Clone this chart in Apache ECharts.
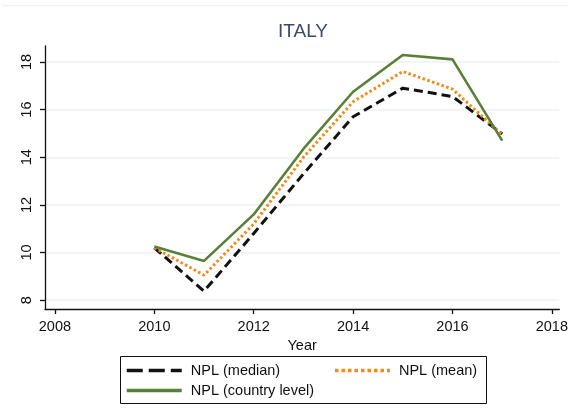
<!DOCTYPE html>
<html>
<head>
<meta charset="utf-8">
<script src="https://cdn.jsdelivr.net/npm/echarts@6/dist/echarts.min.js"></script>
<style>
  html, body { margin: 0; padding: 0; background: #fff; }
  #chart { width: 571px; height: 418px; }
</style>
</head>
<body>
<div id="chart"></div>
<script>
const years = [2010, 2011, 2012, 2013, 2014, 2015, 2016, 2017]
const nplMedian = [10.2, 8.38, 10.8, 13.3, 15.7, 16.9, 16.55, 14.98]
const nplMean = [10.2, 9.05, 11.2, 14.0, 16.33, 17.6, 16.86, 14.95]
const nplCountry = [10.25, 9.65, 11.6, 14.35, 16.75, 18.29, 18.11, 14.7]
const xTicks = [2008, 2010, 2012, 2014, 2016, 2018]
const yTicks = [8, 10, 12, 14, 16, 18]

const font = 'Liberation Sans, Arial, sans-serif'
const pairs = vals => years.map((y, i) => [y, vals[i]])

let chart = echarts.init(document.getElementById('chart'))

chart.setOption({
  animation: false,
  title: {
    text: 'ITALY',
    left: 273,
    top: 17,
    textStyle: { fontFamily: font, fontSize: 19, fontWeight: 'normal', color: '#3c4a66' }
  },
  grid: { left: 45, right: 11, top: 46, bottom: 109 },
  xAxis: {
    type: 'value',
    min: 2007.8,
    max: 2018.15,
    name: 'Year',
    nameLocation: 'middle',
    nameGap: 21,
    nameTextStyle: { fontFamily: font, fontSize: 14.5, color: '#111' },
    axisLine: { lineStyle: { color: '#111', width: 1.3 } },
    axisTick: { customValues: xTicks, length: 5, lineStyle: { color: '#111', width: 1.3 } },
    axisLabel: {
      customValues: xTicks,
      margin: 10,
      fontFamily: font, fontSize: 14.5, color: '#111',
      formatter: v => String(v)
    },
    splitLine: { show: false }
  },
  yAxis: {
    type: 'value',
    min: 7.63,
    max: 18.67,
    axisLine: { show: true, lineStyle: { color: '#111', width: 1.3 } },
    axisTick: { show: true, customValues: yTicks, length: 5, lineStyle: { color: '#111', width: 1.3 } },
    axisLabel: {
      customValues: yTicks,
      rotate: 90,
      margin: 11,
      fontFamily: font, fontSize: 14.5, color: '#111',
      formatter: v => String(v)
    },
    splitLine: { show: true, lineStyle: { color: '#edf2f2', width: 1.5 } }
  },
  legend: [
    {
      data: [
        { name: 'NPL (median)', lineStyle: { width: 3.5, type: [16, 6] } },
        { name: 'NPL (mean)', lineStyle: { width: 3.5, type: [3.5, 3] } }
      ],
      left: 125,
      top: 363,
      padding: 0,
      itemWidth: 55,
      itemHeight: 14,
      itemGap: 53,
      itemStyle: { opacity: 0 },
      textStyle: { fontFamily: font, fontSize: 14.5, color: '#111', padding: [0, 0, 0, 4] }
    },
    {
      data: [{ name: 'NPL (country level)', lineStyle: { width: 3.5 } }],
      left: 125,
      top: 383,
      padding: 0,
      itemWidth: 55,
      itemHeight: 14,
      itemStyle: { opacity: 0 },
      textStyle: { fontFamily: font, fontSize: 14.5, color: '#111', padding: [0, 0, 0, 4] }
    }
  ],
  graphic: [
    {
      type: 'rect',
      shape: { x: 120.5, y: 356.5, width: 366, height: 47 },
      style: { fill: 'none', stroke: '#111', lineWidth: 1 }
    },
    {
      type: 'line',
      shape: { x1: 3, y1: 5.5, x2: 568, y2: 5.5 },
      style: { stroke: '#eef2f2', lineWidth: 1.5 }
    }
  ],
  series: [
    {
      name: 'NPL (median)',
      type: 'line',
      data: pairs(nplMedian),
      symbol: 'none',
      color: '#111',
      lineStyle: { color: '#111', width: 3, type: [9, 5] }
    },
    {
      name: 'NPL (mean)',
      type: 'line',
      data: pairs(nplMean),
      symbol: 'none',
      color: '#f08a18',
      lineStyle: { color: '#f08a18', width: 3, type: [2.5, 2.5] }
    },
    {
      name: 'NPL (country level)',
      type: 'line',
      data: pairs(nplCountry),
      symbol: 'none',
      color: '#5a7f37',
      lineStyle: { color: '#5a7f37', width: 2.6 }
    }
  ]
})
</script>
</body>
</html>
